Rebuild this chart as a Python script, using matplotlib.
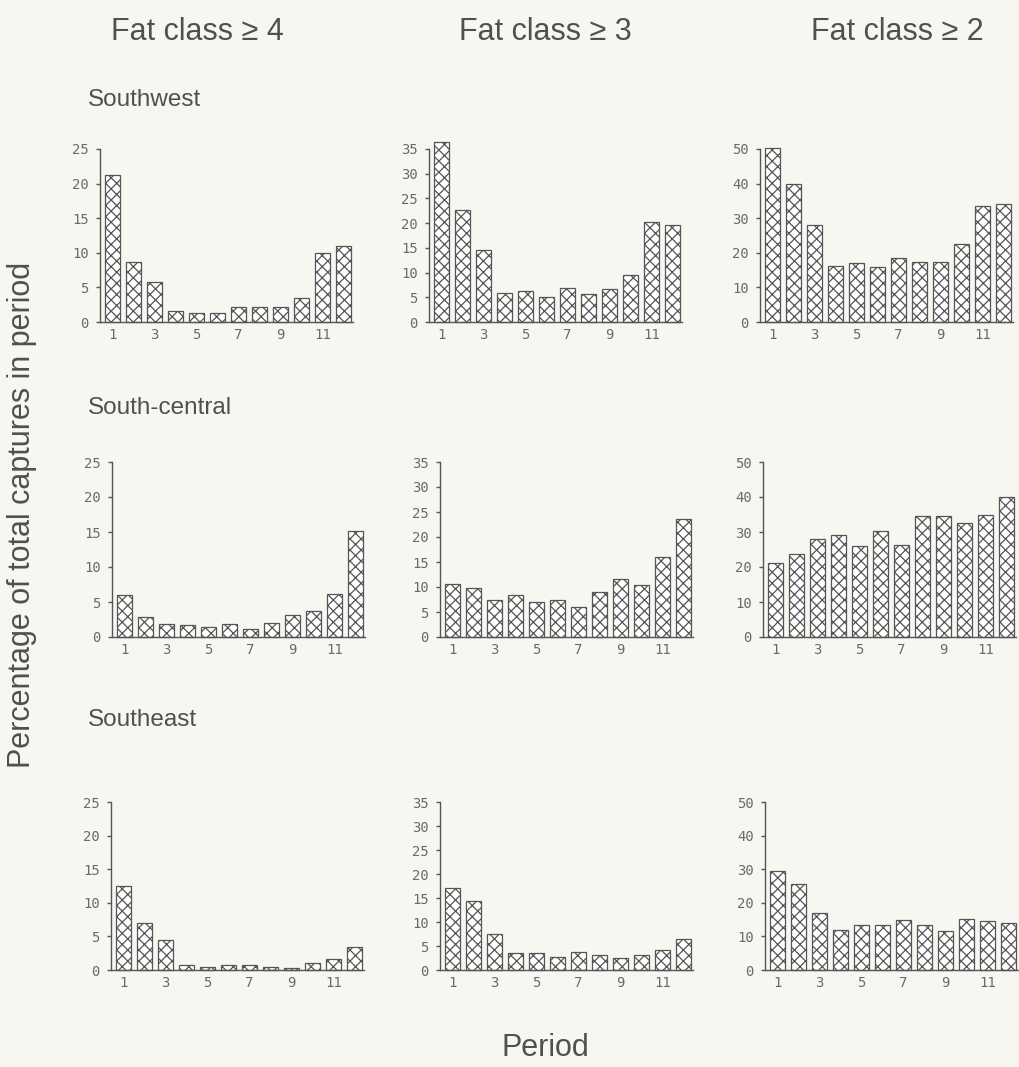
import numpy as np
import matplotlib.pyplot as plt

# percentage of total captures per period, by region and fat class
periods = np.arange(1, 13)

southwest_fat4 = [21.2, 8.6, 5.8, 1.6, 1.3, 1.3, 2.2, 2.2, 2.2, 3.5, 9.9, 11.0]
southwest_fat3 = [36.4, 22.6, 14.5, 5.8, 6.3, 5.0, 6.8, 5.7, 6.6, 9.6, 20.3, 19.6]
southwest_fat2 = [50.2, 40.0, 27.9, 16.3, 17.0, 15.9, 18.5, 17.2, 17.2, 22.6, 33.6, 34.1]

southcentral_fat4 = [6.0, 2.9, 1.8, 1.7, 1.4, 1.8, 1.1, 2.0, 3.2, 3.7, 6.1, 15.1]
southcentral_fat3 = [10.6, 9.8, 7.4, 8.4, 7.1, 7.5, 6.0, 9.1, 11.6, 10.4, 16.0, 23.6]
southcentral_fat2 = [21.1, 23.8, 28.1, 29.1, 26.0, 30.3, 26.3, 34.7, 34.7, 32.5, 34.8, 39.9]

southeast_fat4 = [12.5, 7.0, 4.4, 0.8, 0.5, 0.7, 0.7, 0.5, 0.3, 1.1, 1.7, 3.4]
southeast_fat3 = [17.0, 14.3, 7.4, 3.6, 3.5, 2.8, 3.7, 3.2, 2.5, 3.1, 4.2, 6.4]
southeast_fat2 = [29.6, 25.6, 16.9, 11.9, 13.3, 13.3, 15.0, 13.4, 11.6, 15.1, 14.7, 14.1]

regions = ['Southwest', 'South-central', 'Southeast']
fat_classes = ['Fat class \u2265 4', 'Fat class \u2265 3', 'Fat class \u2265 2']
y_max = [25, 35, 50]
y_step = [5, 5, 10]

series = [
    [southwest_fat4, southwest_fat3, southwest_fat2],
    [southcentral_fat4, southcentral_fat3, southcentral_fat2],
    [southeast_fat4, southeast_fat3, southeast_fat2],
]

# panel placement, in pixels of the 1019x1067 canvas
W, H = 1019, 1067
col_left = [[100, 429, 760], [112, 440, 763], [111, 440, 765]]
row_zero = [322, 637, 970]
row_top = [149, 462, 802]
panel_w = 253

ink = '#555555'
paper = '#f5f7f0'

plt.rcParams['hatch.color'] = '#4f4f4f'
plt.rcParams['hatch.linewidth'] = 0.9

fig = plt.figure(figsize=(W / 100, H / 100), dpi=100, facecolor=paper)

for r in range(3):
    for c in range(3):
        left = col_left[r][c]
        ax = fig.add_axes([left / W, 1 - row_zero[r] / H, panel_w / W,
                           (row_zero[r] - row_top[r]) / H])
        ax.set_facecolor('none')
        ax.bar(periods, series[r][c], width=0.7, color='white', edgecolor=ink,
               hatch='xxx', linewidth=0.9, clip_on=False)
        ax.set_xlim(0.4, 12.45)
        ax.set_ylim(0, y_max[c])
        ax.set_yticks(np.arange(0, y_max[c] + 1, y_step[c]))
        ax.set_xticks([1, 3, 5, 7, 9, 11])
        for side in ['top', 'right']:
            ax.spines[side].set_visible(False)
        for side in ['left', 'bottom']:
            ax.spines[side].set_color(ink)
            ax.spines[side].set_linewidth(1.0)
        ax.tick_params(axis='y', length=3, width=1.0, color=ink, pad=5,
                       labelsize=10, labelcolor='#6a6a6a')
        ax.tick_params(axis='x', length=0, pad=4, labelsize=10,
                       labelcolor='#6a6a6a')
        for lab in ax.get_xticklabels() + ax.get_yticklabels():
            lab.set_family('DejaVu Sans Mono')

title_font = dict(family='Liberation Sans', color='#505050')
for x, t in zip([197, 545, 897], fat_classes):
    fig.text(x / W, 1 - 32 / H, t, ha='center', va='center', fontsize=22, **title_font)

for y, name in zip([100, 408, 720], regions):
    fig.text(88 / W, 1 - y / H, name, ha='left', va='center', fontsize=17.5, **title_font)

fig.text(545 / W, 1 - 1048 / H, 'Period', ha='center', va='center', fontsize=22, **title_font)
fig.text(22 / W, 1 - 515 / H, 'Percentage of total captures in period', rotation=90,
         ha='center', va='center', fontsize=22, **title_font)

fig.savefig('out.png', dpi=100, facecolor=paper)
